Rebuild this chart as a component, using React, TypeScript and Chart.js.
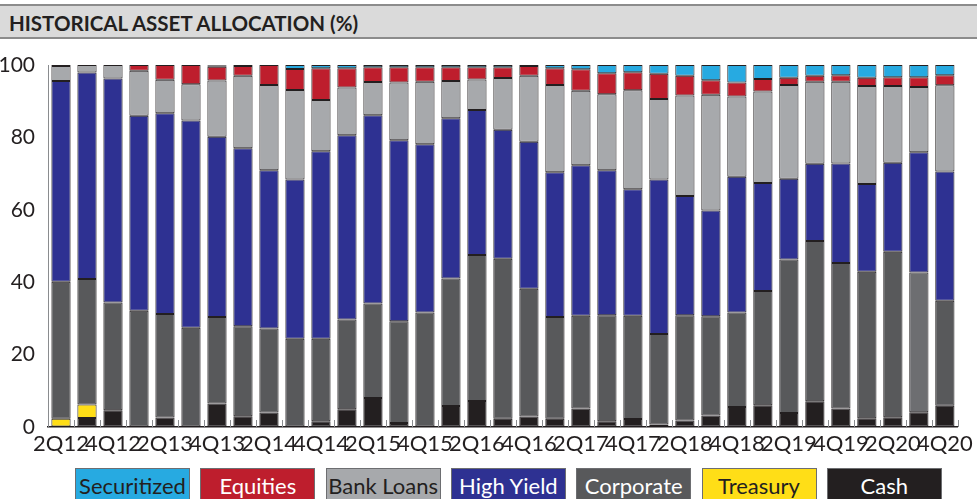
import React, { useEffect, useRef } from 'react';
import { Chart, registerables } from 'chart.js';
Chart.register(...registerables);

const quarters = [
  '2Q12', '3Q12', '4Q12', '1Q13', '2Q13', '3Q13', '4Q13', '1Q14', '2Q14', '3Q14', '4Q14',
  '1Q15', '2Q15', '3Q15', '4Q15', '1Q16', '2Q16', '3Q16', '4Q16', '1Q17', '2Q17', '3Q17', '4Q17',
  '1Q18', '2Q18', '3Q18', '4Q18', '1Q19', '2Q19', '3Q19', '4Q19', '1Q20', '2Q20', '3Q20', '4Q20',
];

const cash = [0, 2.5, 4.6, 0, 2.6, 0, 6.5, 3.0, 4.0, 0, 1.6, 4.9, 8.0, 1.1, 0, 5.8, 7.2, 2.3, 2.9, 2.3, 5.1, 1.6, 2.2, 0.7, 1.8, 3.2, 5.5, 6.0, 3.9, 7.1, 5.1, 2.4, 2.7, 4.1, 5.9];
const treasury = [2.3, 3.7, 0, 0, 0, 0, 0, 0, 0, 0, 0, 0, 0, 0, 0, 0, 0, 0, 0, 0, 0, 0, 0, 0, 0, 0, 0, 0, 0, 0, 0, 0, 0, 0, 0];
const corporate = [37.8, 34.7, 29.8, 32.1, 28.6, 27.4, 23.9, 24.8, 23.2, 24.4, 22.8, 24.8, 26.1, 28.1, 31.6, 35.2, 40.3, 44.2, 35.3, 28.1, 25.6, 29.3, 28.5, 25.0, 29.1, 27.4, 26.1, 31.6, 42.4, 44.3, 40.2, 40.5, 45.7, 38.6, 29.0];
const highYield = [55.5, 57.0, 61.9, 53.9, 55.5, 57.3, 49.8, 49.2, 43.7, 44.0, 51.8, 50.9, 52.0, 50.0, 46.5, 44.3, 40.1, 35.6, 40.6, 40.0, 41.6, 40.0, 35.0, 42.7, 32.9, 29.2, 37.5, 29.8, 22.3, 21.3, 27.5, 24.2, 24.6, 33.2, 35.7];
const bankLoans = [4.1, 2.1, 3.7, 12.4, 9.2, 10.0, 15.5, 20.0, 23.6, 24.7, 14.1, 13.2, 9.2, 16.0, 17.3, 10.3, 8.4, 14.3, 18.2, 24.1, 20.6, 21.0, 27.3, 22.2, 27.8, 32.0, 22.2, 25.3, 25.9, 22.7, 22.6, 27.1, 21.2, 18.0, 23.8];
const equities = [0.3, 0, 0, 1.6, 4.1, 5.3, 3.8, 2.7, 5.5, 5.8, 8.8, 5.3, 4.1, 4.2, 4.0, 3.8, 3.4, 3.0, 2.7, 4.6, 5.9, 5.8, 5.0, 7.0, 5.4, 4.0, 3.9, 3.4, 2.0, 1.6, 1.8, 2.3, 2.4, 2.7, 2.8];
const securitized = [0, 0, 0, 0, 0, 0, 0.4, 0.3, 0, 1.1, 0.9, 0.9, 0.6, 0.6, 0.6, 0.6, 0.6, 0.6, 0.3, 0.9, 1.2, 2.3, 2.0, 2.4, 3.0, 4.2, 4.8, 3.9, 3.5, 3.0, 2.8, 3.5, 3.4, 3.4, 2.8];
const yTicks = [0, 20, 40, 60, 80, 100];

const legendItems = [
  { name: 'Securitized', bg: '#27aae1', fg: '#231f20' },
  { name: 'Equities', bg: '#be1e2d', fg: '#ffffff' },
  { name: 'Bank Loans', bg: '#a7a9ac', fg: '#231f20' },
  { name: 'High Yield', bg: '#2e3192', fg: '#ffffff' },
  { name: 'Corporate', bg: '#58595b', fg: '#ffffff' },
  { name: 'Treasury', bg: '#ffde17', fg: '#231f20' },
  { name: 'Cash', bg: '#231f20', fg: '#ffffff' },
];

const FONT = 'Lato, "Open Sans", sans-serif';

const nz = (arr: number[]) => arr.map((v) => (v === 0 ? null : v));

const innerTicks = {
  id: 'innerTicks',
  afterDatasetsDraw(chart: any) {
    const xs = chart.scales.x;
    const { ctx } = chart;
    const n = quarters.length;
    const step = (xs.right - xs.left) / n;
    ctx.save();
    ctx.strokeStyle = '#8a8c8f';
    ctx.lineWidth = 1;
    for (let i = 0; i <= n; i++) {
      const px = Math.round(xs.getPixelForValue(Math.min(i, n - 1)) + (i === n ? step / 2 : -step / 2)) + 0.5;
      ctx.beginPath();
      ctx.moveTo(px, xs.top);
      ctx.lineTo(px, xs.top - 7);
      ctx.stroke();
    }
    ctx.restore();
  },
};

export default function App() {
  const ref = useRef<HTMLCanvasElement>(null);
  useEffect(() => {
    document.body.style.margin = '0';
    const corpColors = corporate.map((_, i) => (i === 33 ? '#6d6e71' : '#58595b'));
    const chart = new Chart(ref.current as HTMLCanvasElement, {
      type: 'bar',
      data: {
        labels: quarters,
        datasets: [
          { label: 'Cash', data: nz(cash), backgroundColor: '#231f20' },
          { label: 'Treasury', data: nz(treasury), backgroundColor: '#ffde17' },
          { label: 'Corporate', data: nz(corporate), backgroundColor: corpColors },
          { label: 'High Yield', data: nz(highYield), backgroundColor: '#2e3192' },
          { label: 'Bank Loans', data: nz(bankLoans), backgroundColor: '#a7a9ac' },
          { label: 'Equities', data: nz(equities), backgroundColor: '#be1e2d' },
          { label: 'Securitized', data: nz(securitized), backgroundColor: '#27aae1' },
        ] as any,
      },
      options: {
        animation: false,
        responsive: false,
        maintainAspectRatio: false,
        layout: { padding: { top: 65, right: 14, bottom: 0, left: 0 } },
        plugins: { legend: { display: false }, tooltip: { enabled: false }, title: { display: false } },
        datasets: {
          bar: {
            categoryPercentage: 1,
            barPercentage: 0.74,
            borderWidth: 1,
            borderColor: '#231f20',
            borderSkipped: false,
          },
        } as any,
        scales: {
          x: {
            stacked: true,
            grid: { display: false, drawTicks: false },
            border: { display: true, color: '#231f20', width: 1.5 },
            ticks: {
              autoSkip: false,
              maxRotation: 0,
              minRotation: 0,
              padding: 4,
              color: '#231f20',
              font: { family: FONT, size: 22 },
              callback: (_v: any, i: number) => (i % 2 === 0 ? quarters[i] : ''),
            },
            afterFit: (s: any) => {
              s.height = 41;
            },
          },
          y: {
            stacked: true,
            min: 0,
            max: 100,
            grid: { display: true, drawOnChartArea: false, drawTicks: false },
            border: { display: true, color: '#8a8c8f', width: 1 },
            afterBuildTicks: (s: any) => {
              s.ticks = yTicks.map((v) => ({ value: v }));
            },
            ticks: {
              padding: 13,
              color: '#231f20',
              font: { family: FONT, size: 21 },
            },
            afterFit: (s: any) => {
              s.width = 48;
            },
          },
        },
      },
      plugins: [innerTicks],
    });
    return () => chart.destroy();
  }, []);

  return (
    <div style={{ position: 'relative', width: 977, height: 499, overflow: 'hidden', background: '#ffffff', fontFamily: FONT }}>
      <div
        style={{
          position: 'absolute',
          left: 0,
          top: 4,
          width: 977,
          height: 31,
          background: '#dadada',
          borderTop: '2px solid #8c8c8c',
          borderBottom: '2px solid #8c8c8c',
          boxSizing: 'content-box',
        }}
      >
        <div
          style={{
            position: 'absolute',
            left: 9,
            top: 5,
            fontSize: 20.5,
            fontWeight: 700,
            color: '#231f20',
            lineHeight: '24px',
            whiteSpace: 'nowrap',
          }}
        >
          HISTORICAL ASSET ALLOCATION (%)
        </div>
      </div>
      <canvas ref={ref} width={977} height={468} style={{ position: 'absolute', left: 0, top: 0, display: 'block' }} />
      {legendItems.map((it, i) => (
        <div
          key={it.name}
          style={{
            position: 'absolute',
            left: 75 + i * 125.3,
            top: 468,
            width: 115,
            height: 40,
            boxSizing: 'border-box',
            border: '1px solid #6d6e71',
            background: it.bg,
            color: it.fg,
            fontSize: 22,
            lineHeight: '33px',
            textAlign: 'center',
            whiteSpace: 'nowrap',
          }}
        >
          {it.name}
        </div>
      ))}
    </div>
  );
}
